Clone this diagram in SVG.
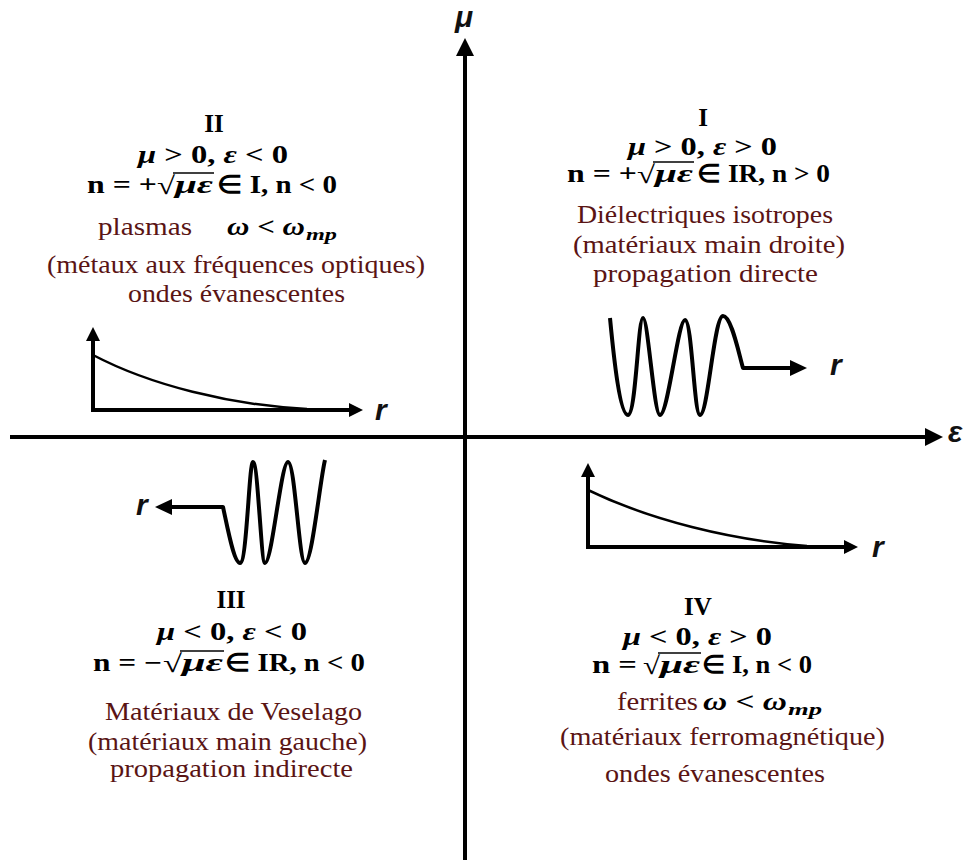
<svg xmlns="http://www.w3.org/2000/svg" width="965" height="860" viewBox="0 0 965 860">
<defs>
<style>
.ax{stroke:#000;stroke-width:4;fill:none}
.crv{stroke:#000;stroke-width:2.5;fill:none}
.wav{stroke:#000;stroke-width:4;fill:none;stroke-linejoin:round}
.hd{fill:#000}
.rom{font-family:"Liberation Serif",serif;font-weight:bold;font-size:25px;fill:#000;text-anchor:middle}
.m{font-family:"Liberation Serif",serif;font-weight:bold;font-size:25px;fill:#000}
.i{font-style:italic}
.d{font-family:"Liberation Serif",serif;font-size:25px;fill:#5a1414}
.sub{font-family:"Liberation Serif",serif;font-weight:bold;font-style:italic;font-size:16px;fill:#000}
.lb{font-family:"Liberation Sans",Arial,sans-serif;font-weight:bold;font-style:italic;font-size:30px;fill:#111}
.ov{stroke:#000;stroke-width:1.6}
</style>
</defs>
<rect width="965" height="860" fill="#fff"/>
<g id="axes">
<line class="ax" x1="465" y1="860" x2="465" y2="52"/>
<polygon class="hd" points="465,38 456,56 474,56"/>
<line class="ax" x1="10" y1="437" x2="928" y2="437"/>
<polygon class="hd" points="943,437 925,428 925,446"/>
<text class="lb" x="455" y="27">μ</text>
<text class="lb" x="948" y="442">ε</text>
</g>
<g id="q1">
<text class="rom" x="703" y="126">I</text>
<text class="m" x="628" y="155" textLength="149" lengthAdjust="spacingAndGlyphs"><tspan class="i">μ</tspan> &gt; 0, <tspan class="i">ε</tspan> &gt; 0</text>
<text class="m" x="567" y="182" textLength="70" lengthAdjust="spacingAndGlyphs">n = +</text>
<text class="m" x="637" y="183" textLength="18" lengthAdjust="spacingAndGlyphs">√</text>
<text class="m i" x="655" y="182" textLength="38" lengthAdjust="spacingAndGlyphs">με</text>
<line class="ov" x1="653" y1="162" x2="694" y2="162"/>
<text class="m" x="697" y="182" textLength="133" lengthAdjust="spacingAndGlyphs">∈ IR, n &gt; 0</text>
<text class="d" x="577" y="223" textLength="256" lengthAdjust="spacingAndGlyphs">Diélectriques isotropes</text>
<text class="d" x="573" y="253" textLength="272" lengthAdjust="spacingAndGlyphs">(matériaux main droite)</text>
<text class="d" x="593" y="282" textLength="225" lengthAdjust="spacingAndGlyphs">propagation directe</text>
<path class="wav" d="M610,318 C614,360 620,415 628,415 C636,415 638,318 643,318 C648,318 654,415 660,415 C668,415 678,320 685,320 C692,320 694,415 700,415 C708,415 714,316 723,316 C731,316 738,350 743,368 L793,368"/>
<polygon class="hd" points="807,368 790,360 790,376"/>
<text class="lb" x="830" y="375">r</text>
</g>
<g id="q2">
<text class="rom" x="214" y="132">II</text>
<text class="m" x="138" y="163" textLength="150" lengthAdjust="spacingAndGlyphs"><tspan class="i">μ</tspan> &gt; 0, <tspan class="i">ε</tspan> &lt; 0</text>
<text class="m" x="87" y="193" textLength="70" lengthAdjust="spacingAndGlyphs">n = +</text>
<text class="m" x="157" y="194" textLength="18" lengthAdjust="spacingAndGlyphs">√</text>
<text class="m i" x="175" y="193" textLength="38" lengthAdjust="spacingAndGlyphs">με</text>
<line class="ov" x1="173" y1="173" x2="214" y2="173"/>
<text class="m" x="217" y="193" textLength="120" lengthAdjust="spacingAndGlyphs">∈ I, n &lt; 0</text>
<text class="d" x="98" y="235" textLength="94" lengthAdjust="spacingAndGlyphs">plasmas</text>
<text class="m" x="227" y="235" textLength="78" lengthAdjust="spacingAndGlyphs"><tspan class="i">ω</tspan> &lt; <tspan class="i">ω</tspan></text>
<text class="sub" x="306" y="240" textLength="31" lengthAdjust="spacingAndGlyphs">mp</text>
<text class="d" x="47" y="273" textLength="378" lengthAdjust="spacingAndGlyphs">(métaux aux fréquences optiques)</text>
<text class="d" x="128" y="302" textLength="217" lengthAdjust="spacingAndGlyphs">ondes évanescentes</text>
<line class="ax" x1="93" y1="412" x2="93" y2="340"/>
<polygon class="hd" points="93,327 86,341 100,341"/>
<line class="ax" x1="91" y1="410" x2="350" y2="410"/>
<polygon class="hd" points="363,410 349,403 349,417"/>
<path class="crv" d="M93,355 C150,385 230,405 307,409"/>
<text class="lb" x="375" y="420">r</text>
</g>
<g id="q3">
<text class="rom" x="231" y="608">III</text>
<text class="m" x="157" y="640" textLength="150" lengthAdjust="spacingAndGlyphs"><tspan class="i">μ</tspan> &lt; 0, <tspan class="i">ε</tspan> &lt; 0</text>
<text class="m" x="93" y="671" textLength="69" lengthAdjust="spacingAndGlyphs">n = −</text>
<text class="m" x="163" y="672" textLength="19" lengthAdjust="spacingAndGlyphs">√</text>
<text class="m i" x="182" y="671" textLength="41" lengthAdjust="spacingAndGlyphs">με</text>
<line class="ov" x1="180" y1="651" x2="224" y2="651"/>
<text class="m" x="225" y="671" textLength="140" lengthAdjust="spacingAndGlyphs">∈ IR, n &lt; 0</text>
<text class="d" x="105" y="720" textLength="257" lengthAdjust="spacingAndGlyphs">Matériaux de Veselago</text>
<text class="d" x="88" y="750" textLength="279" lengthAdjust="spacingAndGlyphs">(matériaux main gauche)</text>
<text class="d" x="110" y="777" textLength="243" lengthAdjust="spacingAndGlyphs">propagation indirecte</text>
<path class="wav" d="M325,460 C320,480 312,563 305,563 C299,563 295,462 288,462 C281,462 272,563 265,563 C261,563 258,462 253,462 C249,462 247,563 240,563 C234,563 228,530 223,507 L170,507"/>
<polygon class="hd" points="155,507 172,499 172,515"/>
<text class="lb" x="136" y="515">r</text>
</g>
<g id="q4">
<text class="rom" x="698" y="615">IV</text>
<text class="m" x="623" y="645" textLength="149" lengthAdjust="spacingAndGlyphs"><tspan class="i">μ</tspan> &lt; 0, <tspan class="i">ε</tspan> &gt; 0</text>
<text class="m" x="592" y="673" textLength="45" lengthAdjust="spacingAndGlyphs">n =</text>
<text class="m" x="643" y="674" textLength="17" lengthAdjust="spacingAndGlyphs">√</text>
<text class="m i" x="660" y="673" textLength="40" lengthAdjust="spacingAndGlyphs">με</text>
<line class="ov" x1="658" y1="653" x2="701" y2="653"/>
<text class="m" x="702" y="673" textLength="110" lengthAdjust="spacingAndGlyphs">∈ I, n &lt; 0</text>
<text class="d" x="617" y="710" textLength="81" lengthAdjust="spacingAndGlyphs">ferrites</text>
<text class="m" x="703" y="710" textLength="84" lengthAdjust="spacingAndGlyphs"><tspan class="i">ω</tspan> &lt; <tspan class="i">ω</tspan></text>
<text class="sub" x="788" y="715" textLength="34" lengthAdjust="spacingAndGlyphs">mp</text>
<text class="d" x="560" y="745" textLength="325" lengthAdjust="spacingAndGlyphs">(matériaux ferromagnétique)</text>
<text class="d" x="605" y="782" textLength="220" lengthAdjust="spacingAndGlyphs">ondes évanescentes</text>
<line class="ax" x1="588" y1="549" x2="588" y2="476"/>
<polygon class="hd" points="588,463 581,477 595,477"/>
<line class="ax" x1="586" y1="547" x2="845" y2="547"/>
<polygon class="hd" points="858,547 844,540 844,554"/>
<path class="crv" d="M588,490 C650,520 730,540 807,546"/>
<text class="lb" x="872" y="557">r</text>
</g>
</svg>
